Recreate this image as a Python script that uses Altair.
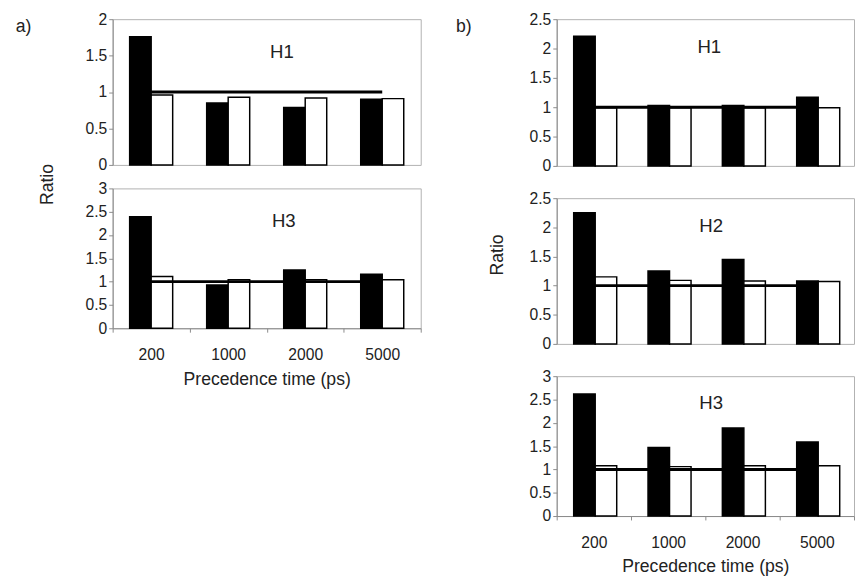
import altair as alt
import pandas as pd

categories = ["200", "1000", "2000", "5000"]
reference = [1, 1, 1, 1]

a_h1_black = [1.76, 0.85, 0.79, 0.90]
a_h1_white = [0.96, 0.93, 0.92, 0.91]
a_h3_black = [2.39, 0.93, 1.25, 1.16]
a_h3_white = [1.11, 1.04, 1.04, 1.04]

b_h1_black = [2.21, 1.03, 1.03, 1.17]
b_h1_white = [0.99, 0.99, 0.99, 0.99]
b_h2_black = [2.25, 1.25, 1.45, 1.08]
b_h2_white = [1.15, 1.09, 1.08, 1.07]
b_h3_black = [2.62, 1.47, 1.89, 1.59]
b_h3_white = [1.08, 1.06, 1.08, 1.08]

FONT = "Liberation Sans"
TXT = "#222222"
AXC = "#8a8a8a"


def panel(black, white, ymax, label, lx, ly, width, height, pad_outer, bottom):
    rows = []
    for c, bv, wv in zip(categories, black, white):
        rows.append({"cat": c, "series": "black", "value": bv})
        rows.append({"cat": c, "series": "white", "value": wv})
    bars_df = pd.DataFrame(rows)
    ref_df = pd.DataFrame({"cat": categories, "value": reference})
    lab_df = pd.DataFrame({"t": [label]})

    if bottom:
        xaxis = alt.Axis(
            title="Precedence time (ps)", labelAngle=0, tickBand="extent",
            tickSize=4, tickColor=AXC, domainColor=AXC, labelFontSize=16,
            labelPadding=15, labelColor=TXT, titleFontSize=18, titleColor=TXT,
            titleFontWeight="normal", titlePadding=8, labelFont=FONT, titleFont=FONT,
        )
    else:
        xaxis = alt.Axis(title=None, labels=False, ticks=False, domain=False)

    n = int(round(ymax * 2))
    yticks = [k / 2 for k in range(n + 1)]
    yaxis = alt.Axis(
        title=None, values=yticks, format="~g", grid=False, tickSize=4,
        tickColor=AXC, domainColor=AXC, labelFontSize=16, labelPadding=2,
        labelColor=TXT, labelFont=FONT, labelOverlap=False, labelFlush=False,
        tickCount=50,
    )

    xenc = alt.X("cat:N", sort=categories, axis=xaxis,
                 scale=alt.Scale(paddingInner=0, paddingOuter=0))
    yscale = alt.Scale(domain=[0, ymax], nice=False)

    bars = alt.Chart(bars_df).mark_bar(stroke="black", strokeWidth=1.5).encode(
        x=xenc,
        xOffset=alt.XOffset("series:N", sort=["black", "white"],
                            scale=alt.Scale(paddingInner=0, paddingOuter=pad_outer)),
        y=alt.Y("value:Q", scale=yscale, axis=yaxis),
        fill=alt.Fill("series:N", scale=alt.Scale(domain=["black", "white"],
                                                 range=["black", "white"]), legend=None),
    )
    line = alt.Chart(ref_df).mark_line(color="black", strokeWidth=3).encode(
        x=xenc,
        y=alt.Y("value:Q", scale=yscale, axis=yaxis),
    )
    txt = alt.Chart(lab_df).mark_text(fontSize=19, font=FONT, color=TXT,
                                      align="center", baseline="middle").encode(
        x=alt.value(lx), y=alt.value(ly), text="t:N")
    return alt.layer(bars, line, txt).properties(width=width, height=height)


a1 = panel(a_h1_black, a_h1_white, 2, "H1", 173, 34, 315, 149, 0.79, False)
a3 = panel(a_h3_black, a_h3_white, 3, "H3", 175, 33, 315, 143, 0.79, True)
b1 = panel(b_h1_black, b_h1_white, 2.5, "H1", 156, 29, 304, 150, 0.68, False)
b2 = panel(b_h2_black, b_h2_white, 2.5, "H2", 158, 29, 304, 149, 0.68, False)
b3 = panel(b_h3_black, b_h3_white, 3, "H3", 158, 28, 304, 143, 0.68, True)

col_a = alt.vconcat(a1, a3, spacing=6)
col_b = alt.vconcat(b1, b2, b3, spacing=15)


def label_view(items, width, height):
    layers = []
    for t, x, y, ang in items:
        d = pd.DataFrame({"t": [t]})
        layers.append(
            alt.Chart(d).mark_text(fontSize=18, font=FONT, color=TXT, align="center",
                                   baseline="middle", angle=ang).encode(
                x=alt.value(x), y=alt.value(y), text="t:N")
        )
    return alt.layer(*layers).properties(
        width=width, height=height, view=alt.ViewBackground(stroke="transparent"))


lab_a = label_view([("a)", 10, 8, 0), ("Ratio", 35, 169, 270)], 71, 340)
lab_b = label_view([("b)", 42, 8, 0), ("Ratio", 77, 241, 270)], 107, 340)

chart = alt.hconcat(lab_a, col_a, lab_b, col_b, spacing=0).properties(
    padding={"left": 5, "top": -4, "right": 0, "bottom": 0}
).configure_view(stroke="#b0b0b0", strokeWidth=1).configure_axis(
    labelFont=FONT, titleFont=FONT
)

chart.save("out.html", embed_options={"renderer": "svg", "actions": False})
